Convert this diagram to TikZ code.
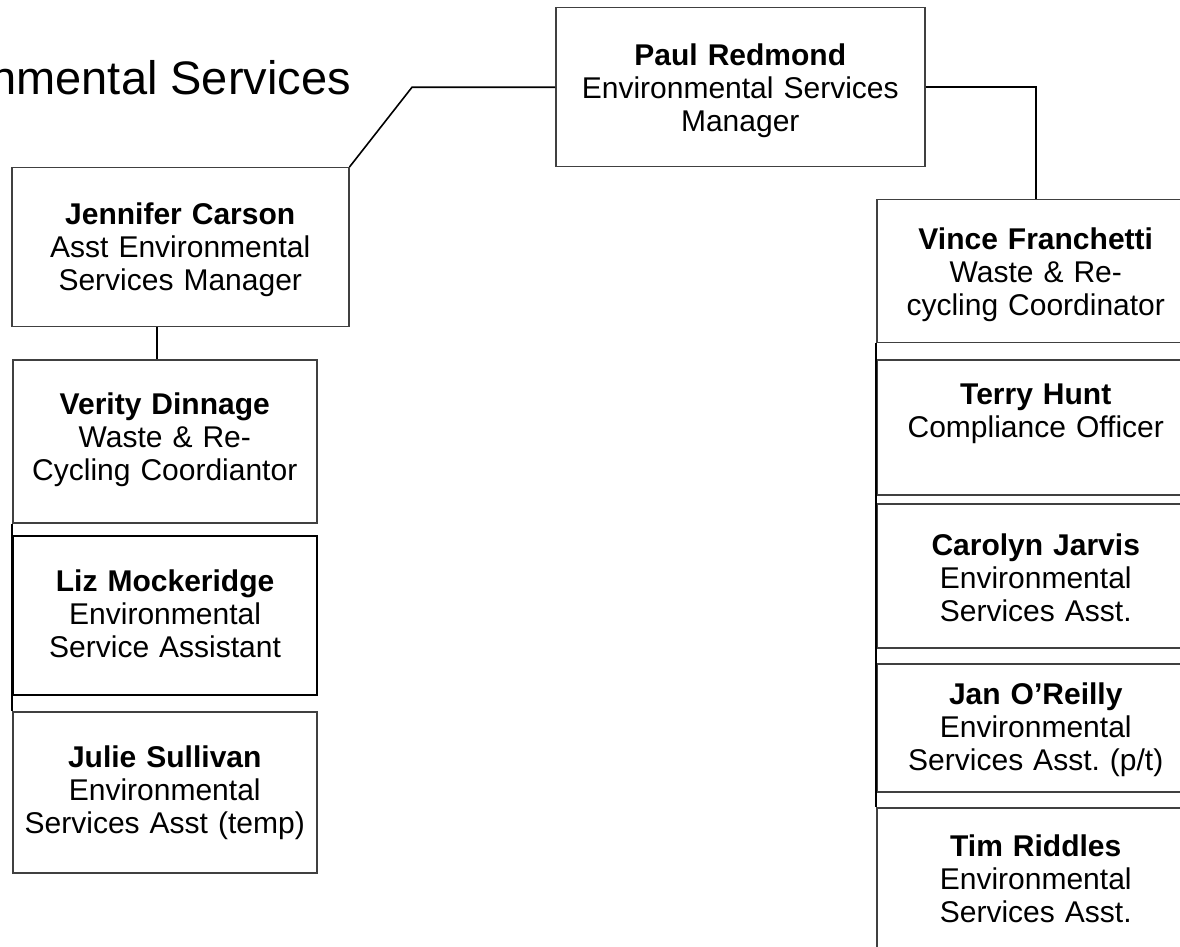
\documentclass[tikz,border=0pt]{standalone}
\usepackage{fontspec}
\setmainfont{Liberation Sans}
\frenchspacing

\begin{document}
\begin{tikzpicture}[x=0.5pt, y=-0.5pt,
    box/.style={draw=black!75, line width=0.75pt, anchor=north west, inner sep=0pt,
      align=center, font=\fontsize{15}{16.5}\selectfont},
    link/.style={draw=black, line width=0.8pt}]
  \useasboundingbox (0,0) rectangle (1180,947);
  \clip (0,0) rectangle (1180,947);

  \node[anchor=base east, font=\fontsize{23.5}{28}\selectfont] (title) at (358,95) {Environmental Services};

  % top
  \node[box, text width=184.5pt, text height=29pt, text depth=50.5pt] (paul) at (555,7)
    {\textbf{Paul Redmond}\\Environmental Services\\Manager};

  % left branch
  \node[box, text width=168.5pt, text height=28.5pt, text depth=51pt] (jen) at (11,167)
    {\textbf{Jennifer Carson}\\Asst Environmental\\Services Manager};
  \node[box, text width=152pt, text height=27.5pt, text depth=54pt] (verity) at (12,359)
    {\textbf{Verity Dinnage}\\Waste \& Re-\\Cycling Coordiantor};
  \node[box, draw=black, line width=1.1pt, text width=152pt, text height=27.5pt, text depth=52pt] (liz) at (12,535)
    {\textbf{Liz Mockeridge}\\Environmental\\Service Assistant};
  \node[box, text width=152pt, text height=28pt, text depth=52.5pt] (julie) at (12,711)
    {\textbf{Julie Sullivan}\\Environmental\\Services Asst (temp)};

  % right branch
  \node[box, text width=159pt, text height=25pt, text depth=46.5pt] (vince) at (876,199)
    {\textbf{Vince Franchetti}\\Waste \& Re-\\cycling Coordinator};
  \node[box, text width=159pt, text height=22.5pt, text depth=45pt] (terry) at (876,359)
    {\textbf{Terry Hunt}\\Compliance Officer};
  \node[box, text width=159pt, text height=26pt, text depth=46pt] (carolyn) at (876,503)
    {\textbf{Carolyn Jarvis}\\Environmental\\Services Asst.};
  \node[box, text width=159pt, text height=20.5pt, text depth=43.5pt] (jan) at (876,663)
    {\textbf{Jan O'Reilly}\\Environmental\\Services Asst. (p/t)};
  \node[box, text width=159pt, text height=24.5pt, text depth=80pt] (tim) at (876,807)
    {\textbf{Tim Riddles}\\Environmental\\Services Asst.};

  \draw[link] (paul.west) -- ++(-143,0) -- (jen.north east);
  \draw[link] (paul.east) -| (vince.north);
  \draw[link] ([xshift=-4pt]verity.north) -- ([xshift=-4pt]verity.north |- jen.south);
  \draw[link] (verity.south west) -- (julie.north west);
  \draw[link] (vince.south west) -- (tim.north west);
\end{tikzpicture}
\end{document}
